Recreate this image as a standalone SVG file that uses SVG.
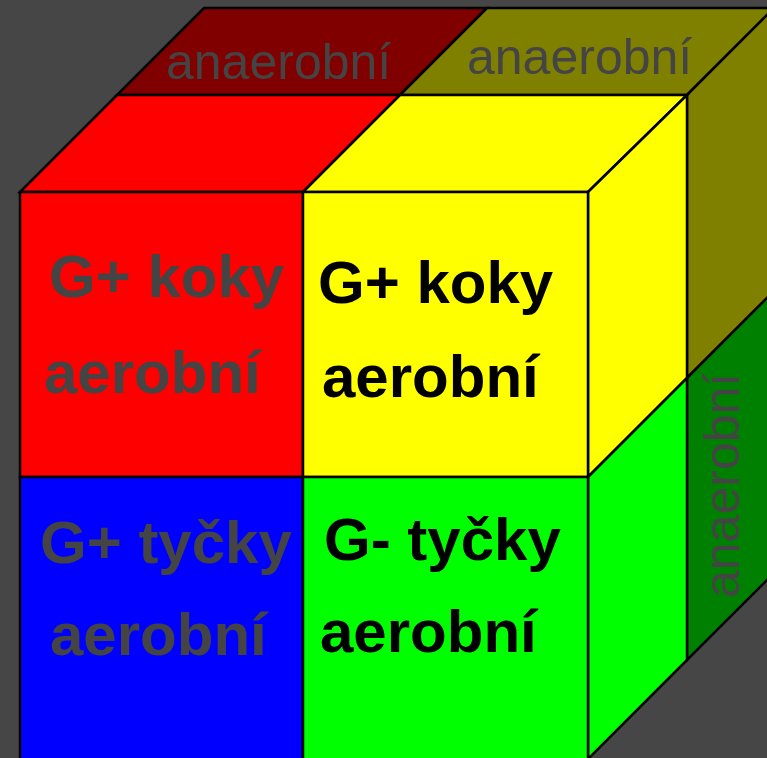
<svg xmlns="http://www.w3.org/2000/svg" width="767" height="758" viewBox="0 0 767 758">
<style>
.f{stroke:#000;stroke-width:2.5;stroke-linejoin:miter}
.big{font-family:"Liberation Sans",Arial,sans-serif;font-weight:bold;font-size:60px}
.g{fill:#444444}
.k{fill:#000}
.sm{font-family:"Liberation Sans",Arial,sans-serif;font-size:50px;fill:#444444}
</style>
<rect x="0" y="0" width="767" height="758" fill="#464646"/>
<g id="top-back-left"><polygon class="f" points="117,95 400,95 487,8 204,8" fill="#800000"/><text class="sm" x="166" y="79" font-size="48">anaerobní</text></g>
<g id="top-back-right"><polygon class="f" points="400,95 687,95 774,8 487,8" fill="#808000"/><text class="sm" x="467" y="74">anaerobní</text></g>
<g id="side-back-top"><polygon class="f" points="687,95 774,8 774,291 687,378" fill="#808000"/></g>
<g id="side-back-bottom"><polygon class="f" points="687,378 774,291 774,573 687,660" fill="#008000"/><text class="sm" transform="translate(739,598) rotate(-90)" x="0" y="0" font-size="48">anaerobní</text></g>
<g id="top-red"><polygon class="f" points="20,192 303,192 400,95 117,95" fill="#ff0000"/></g>
<g id="top-yellow"><polygon class="f" points="303,192 588,192 687,95 400,95" fill="#ffff00"/></g>
<g id="side-yellow"><polygon class="f" points="588,192 687,95 687,378 588,477" fill="#ffff00"/></g>
<g id="side-green"><polygon class="f" points="588,477 687,378 687,660 588,759" fill="#00ff00"/></g>
<g id="front-red"><rect class="f" x="20" y="192" width="283" height="285" fill="#ff0000"/><text class="big g" x="49" y="297">G+ koky</text><text class="big g" x="44" y="393">aerobní</text></g>
<g id="front-yellow"><rect class="f" x="303" y="192" width="285" height="285" fill="#ffff00"/><text class="big k" x="318" y="303">G+ koky</text><text class="big k" x="322" y="397">aerobní</text></g>
<g id="front-blue"><rect class="f" x="20" y="477" width="283" height="290" fill="#0000ff"/><text class="big g" x="40" y="563">G+ tyčky</text><text class="big g" x="50" y="655">aerobní</text></g>
<g id="front-green"><rect class="f" x="303" y="477" width="285" height="290" fill="#00ff00"/><text class="big k" x="324" y="560">G- tyčky</text><text class="big k" x="320" y="652">aerobní</text></g>
<g id="connectors"></g>
</svg>
